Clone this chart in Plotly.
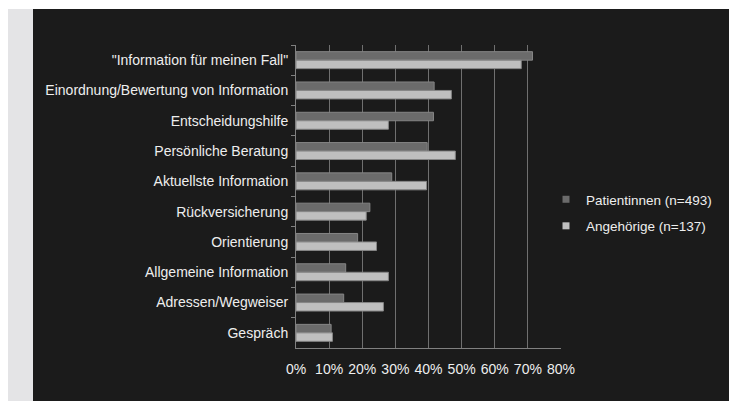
import plotly.graph_objects as go

categories = [
    '"Information für meinen Fall"',
    "Einordnung/Bewertung von Information",
    "Entscheidungshilfe",
    "Persönliche Beratung",
    "Aktuellste Information",
    "Rückversicherung",
    "Orientierung",
    "Allgemeine Information",
    "Adressen/Wegweiser",
    "Gespräch",
]
patientinnen = [71.4, 41.7, 41.5, 39.6, 28.9, 22.3, 18.6, 15.0, 14.4, 10.6]
angehoerige = [68.0, 46.9, 27.9, 48.1, 39.4, 21.2, 24.3, 27.9, 26.4, 11.0]
series_names = ["Patientinnen (n=493)", "Angehörige (n=137)"]
tick_vals = [0, 10, 20, 30, 40, 50, 60, 70, 80]
tick_text = ["0%", "10%", "20%", "30%", "40%", "50%", "60%", "70%", "80%"]

DARK = "#1b1b1b"
C1 = "#6b6b6b"
C2 = "#bfbfbf"
EDGE = "#858585"
TXT = "#eeeeee"

W, H = 729, 403
ML, MR, MT, MB = 296, 168, 45, 55
PW, PH = W - ML - MR, H - MT - MB


def px_x(x):
    return (x - ML) / PW


def px_y(y):
    return (H - MB - y) / PH


fig = go.Figure()
fig.add_trace(go.Bar(y=categories, x=patientinnen, orientation="h", name=series_names[0],
                     marker=dict(color=C1, line=dict(color=EDGE, width=1)), showlegend=False))
fig.add_trace(go.Bar(y=categories, x=angehoerige, orientation="h", name=series_names[1],
                     marker=dict(color=C2, line=dict(color=EDGE, width=1)), showlegend=False))
# legend proxies (small square markers)
for nm, col, grp in [(series_names[0], C1, "a"), (series_names[1], C2, "b")]:
    fig.add_trace(go.Scatter(x=[None], y=[None], mode="markers", name=nm, legendgroup=grp,
                             marker=dict(symbol="square", size=7, color=col)))

fig.update_layout(
    width=W, height=H,
    margin=dict(l=ML, r=MR, t=MT, b=MB, pad=0),
    paper_bgcolor="white",
    plot_bgcolor=DARK,
    barmode="group", bargap=0.44, bargroupgap=0,
    font=dict(family="Liberation Sans, Arial, sans-serif", size=14, color=TXT),
    legend=dict(x=px_x(546), y=px_y(184), xanchor="left", yanchor="top",
                bgcolor="rgba(0,0,0,0)", font=dict(size=13.5, color=TXT),
                traceorder="grouped", tracegroupgap=6, itemwidth=30),
    shapes=[
        dict(type="rect", xref="paper", yref="paper", x0=px_x(8), x1=px_x(33),
             y0=px_y(401), y1=px_y(9), fillcolor="#e4e4e6", line=dict(width=0), layer="below"),
        dict(type="rect", xref="paper", yref="paper", x0=px_x(33), x1=px_x(729),
             y0=px_y(401), y1=px_y(9), fillcolor=DARK, line=dict(width=0), layer="below"),
    ],
)
fig.update_xaxes(range=[0, 80], tickvals=tick_vals, ticktext=tick_text,
                 showgrid=True, gridcolor="#707070", gridwidth=1,
                 showline=True, linecolor="#808080", linewidth=1,
                 ticks="", ticklabelstandoff=8, zeroline=False,
                 tickfont=dict(size=14, color=TXT))
fig.update_yaxes(type="category", autorange="reversed", showgrid=False,
                 showline=True, linecolor="#808080", linewidth=1,
                 ticks="outside", ticklen=4, tickcolor="#808080", tickson="boundaries",
                 ticklabelstandoff=4,
                 tickfont=dict(size=14, color=TXT))

fig.write_html("out.html")
